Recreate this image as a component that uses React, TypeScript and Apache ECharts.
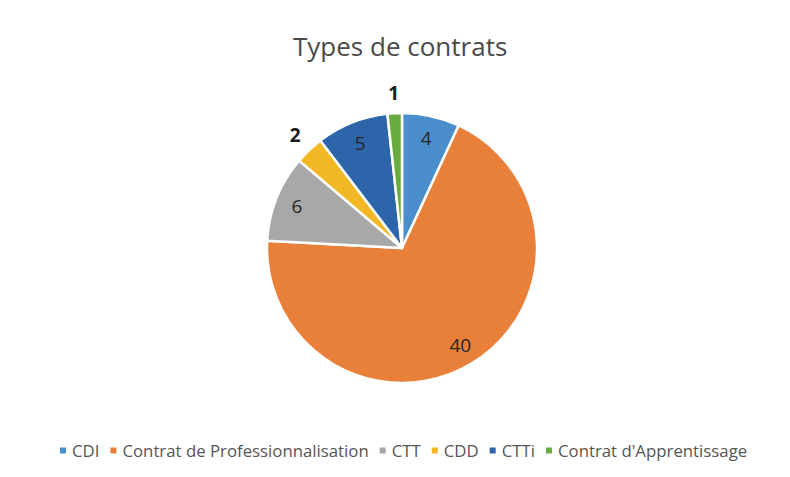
import React, { useEffect, useRef } from "react";
import * as echarts from "echarts";

const categories = [
  "CDI",
  "Contrat de Professionnalisation",
  "CTT",
  "CDD",
  "CTTi",
  "Contrat d'Apprentissage",
];
const values = [4, 40, 6, 2, 5, 1];
const colors = ["#4a8fcb", "#e9803a", "#a8a8a8", "#f1b725", "#2d65ab", "#68ac40"];
const outsideLabels = ["CDD", "Contrat d'Apprentissage"];

export default function App() {
  const ref = useRef<HTMLDivElement>(null);
  useEffect(() => {
    if (!ref.current) return;
    const chart = echarts.init(ref.current, null, { renderer: "svg" });
    const font = "'Open Sans', sans-serif";
    const main = categories.map((name, i) => ({
      name,
      value: values[i],
      itemStyle: { color: colors[i] },
    }));
    const inner = categories.map((name, i) => ({
      name,
      value: values[i],
      label: { show: !outsideLabels.includes(name) },
    }));
    const outer = categories.map((name, i) => ({
      name,
      value: values[i],
      label: { show: outsideLabels.includes(name) },
    }));
    const overlayBase = {
      type: "pie",
      center: [402, 248],
      startAngle: 90,
      clockwise: true,
      silent: true,
      labelLine: { show: false },
      itemStyle: { color: "rgba(0,0,0,0)", borderWidth: 0 },
      emphasis: { disabled: true },
    };
    chart.setOption({
      animation: false,
      backgroundColor: "#ffffff",
      title: {
        text: "Types de contrats",
        left: 288,
        top: 28,
        textStyle: {
          fontFamily: font,
          fontSize: 26,
          fontWeight: "normal",
          color: "#4a4a4a",
        },
      },
      legend: {
        data: categories,
        bottom: 13,
        left: 53,
        itemWidth: 8,
        itemHeight: 8,
        itemGap: 9,
        icon: "rect",
        textStyle: { fontFamily: font, fontSize: 16.8, color: "#555555" },
      },
      series: [
        {
          type: "pie",
          center: [402, 248],
          radius: [0, 135],
          startAngle: 90,
          clockwise: true,
          label: { show: false },
          labelLine: { show: false },
          itemStyle: { borderColor: "#ffffff", borderWidth: 2.5 },
          data: main,
        },
        {
          ...overlayBase,
          radius: [85, 135],
          label: {
            position: "inside",
            formatter: "{c}",
            fontFamily: font,
            fontSize: 19,
            color: "#262626",
          },
          data: inner,
        },
        {
          ...overlayBase,
          radius: [135, 170],
          label: {
            position: "inside",
            formatter: "{c}",
            fontFamily: font,
            fontSize: 19,
            fontWeight: "bold",
            color: "#1a1a1a",
          },
          data: outer,
        },
      ],
    });
    return () => chart.dispose();
  }, []);
  return (
    <div
      ref={ref}
      style={{ position: "fixed", left: 0, top: 0, width: 790, height: 477, background: "#fff" }}
    />
  );
}
